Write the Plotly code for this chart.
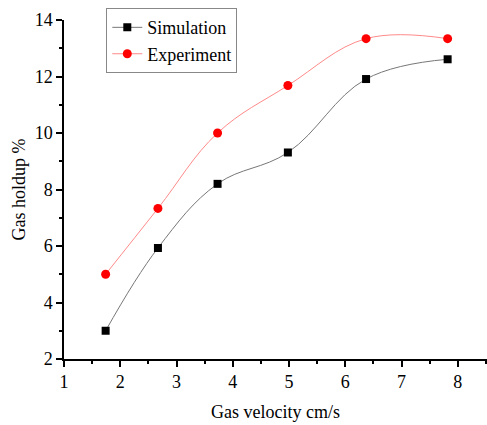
import plotly.graph_objects as go

velocity = [1.74, 2.67, 3.73, 4.98, 6.37, 7.82]
simulation = [3.0, 5.93, 8.2, 9.31, 11.91, 12.61]
experiment = [5.0, 7.33, 10.0, 11.68, 13.34, 13.34]

FONT = "Liberation Serif"

fig = go.Figure()
fig.add_trace(go.Scatter(
    x=velocity, y=simulation, name="Simulation", mode="lines+markers",
    line=dict(color="#777777", width=1, shape="spline", smoothing=1.1),
    marker=dict(symbol="square", size=8, color="black"),
))
fig.add_trace(go.Scatter(
    x=velocity, y=experiment, name="Experiment", mode="lines+markers",
    line=dict(color="#ff8a8a", width=1, shape="spline", smoothing=1.1),
    marker=dict(symbol="circle", size=9, color="#ff0000"),
))

fig.update_layout(
    width=487, height=425,
    margin=dict(l=64, r=0, t=20, b=66),
    paper_bgcolor="white", plot_bgcolor="white",
    font=dict(family=FONT, size=18, color="black"),
    showlegend=True,
    legend=dict(
        x=0.1, y=1.035, xanchor="left", yanchor="top",
        bordercolor="#888888", borderwidth=1, bgcolor="white",
        font=dict(family=FONT, size=18),
        tracegroupgap=0,
    ),
)
fig.update_xaxes(
    range=[1, 8.52], tickmode="array", tickvals=[1, 2, 3, 4, 5, 6, 7, 8],
    showgrid=False, zeroline=False, showline=True, linecolor="black", linewidth=1.5,
    ticks="outside", ticklen=6, tickwidth=1.5, tickcolor="black",
    minor=dict(tickmode="array", tickvals=[1.5, 2.5, 3.5, 4.5, 5.5, 6.5, 7.5, 8.5],
               ticks="outside", ticklen=3, tickwidth=1.5, tickcolor="black", showgrid=False),
    title=dict(text="Gas velocity cm/s", font=dict(family=FONT, size=18), standoff=14),
    tickfont=dict(family=FONT, size=18),
)
fig.update_yaxes(
    range=[2, 14], tickmode="array", tickvals=[2, 4, 6, 8, 10, 12, 14],
    showgrid=False, zeroline=False, showline=True, linecolor="black", linewidth=1.5,
    ticks="outside", ticklen=6, tickwidth=1.5, tickcolor="black",
    minor=dict(tickmode="array", tickvals=[3, 5, 7, 9, 11, 13],
               ticks="outside", ticklen=3, tickwidth=1.5, tickcolor="black", showgrid=False),
    title=dict(text="Gas holdup %", font=dict(family=FONT, size=18), standoff=4),
    tickfont=dict(family=FONT, size=18),
)

fig.write_html("out.html")
